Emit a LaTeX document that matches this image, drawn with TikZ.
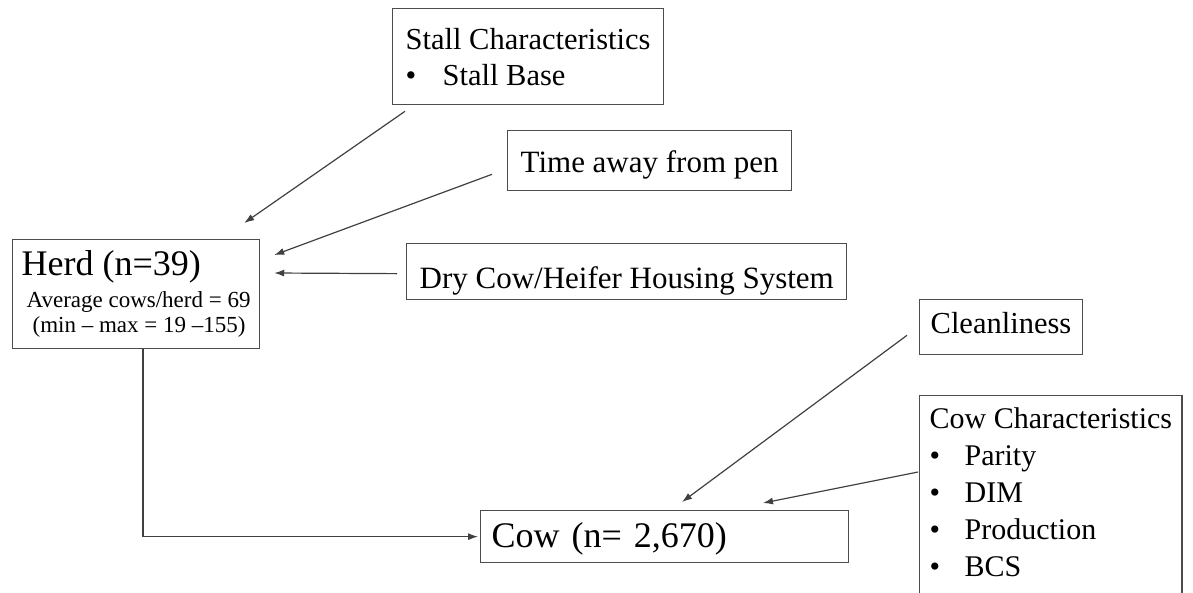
\documentclass[tikz,border=0pt]{standalone}
\usepackage{fontspec}
\setmainfont{Liberation Serif}
\usepackage{tikz}
\usetikzlibrary{arrows.meta}

\begin{document}
\begin{tikzpicture}[x=1pt, y=-1pt, >={Latex[length=10pt,width=7pt]},
    box/.style={draw=black!70, line width=1.3pt, inner xsep=13pt, font=\fontsize{30.5}{36}\selectfont},
    link/.style={->, draw=black!75, line width=1.2pt}]
    \useasboundingbox (0,0) rectangle (1193,592);

    % Nodes
    \node [box, anchor=north west, align=left, minimum height=96pt] (Stall) at (392,8)
        {Stall Characteristics\\\makebox[37pt][l]{\textbullet}Stall Base};
    \node [box, anchor=north west, inner ysep=0pt, text height=42pt, text depth=18pt,
        font=\fontsize{31}{36}\selectfont] (Time) at (507,130)
        {Time away from pen};
    \node [box, anchor=north west, align=left, inner xsep=9pt, minimum height=109pt,
        font=\fontsize{23}{25}\selectfont] (Herd) at (12,239)
        {{\fontsize{36}{36}\selectfont Herd (n=39)}\\[7pt]\hspace*{5pt}Average cows/herd = 69\\\hspace*{11pt}(min – max = 19 –155)};
    \node [box, anchor=north west, inner ysep=0pt, text height=45pt, text depth=11pt,
        font=\fontsize{31}{36}\selectfont] (Dry) at (406,243)
        {Dry Cow/Heifer Housing System};
    \node [box, anchor=north west, inner xsep=11pt, inner ysep=0pt, text height=34pt, text depth=21pt] (Clean) at (919,299)
        {Cleanliness};
    \node [box, anchor=north west, align=left, inner xsep=10pt, inner ysep=12.5pt,
        font=\fontsize{30}{37}\selectfont] (CowChar) at (919,395)
        {Cow Characteristics\\
         \makebox[35pt][l]{\textbullet}Parity\\
         \makebox[35pt][l]{\textbullet}DIM\\
         \makebox[35pt][l]{\textbullet}Production\\
         \makebox[35pt][l]{\textbullet}BCS\rule[-30pt]{0pt}{30pt}};
    \node [box, anchor=north west, align=left, inner xsep=11pt, inner ysep=0pt, text width=346pt,
        text height=37pt, text depth=15pt, font=\fontsize{36}{36}\selectfont] (Cow) at (480,510)
        {Cow (n= 2,670)};

    % Arrows
    \draw [link] ([shift={(13,6)}]Stall.south west) -- ([shift={(-16,-16)}]Herd.north east);
    \draw [link] ([shift={(-15,-17)}]Time.south west) -- ([shift={(14,16)}]Herd.north east);
    \draw [link] ([shift={(-9,2)}]Dry.west) -- ([shift={(14,34)}]Herd.north east);
    \draw [link] ([xshift=131pt]Herd.south west) |- ([xshift=-2pt]Cow.west);
    \draw [link] ([shift={(-12,-20)}]Clean.south west) -- ([shift={(202,-8)}]Cow.north west);
    \draw [link] ([shift={(-1,77)}]CowChar.north west) -- ([shift={(283,-7)}]Cow.north west);

\end{tikzpicture}
\end{document}
